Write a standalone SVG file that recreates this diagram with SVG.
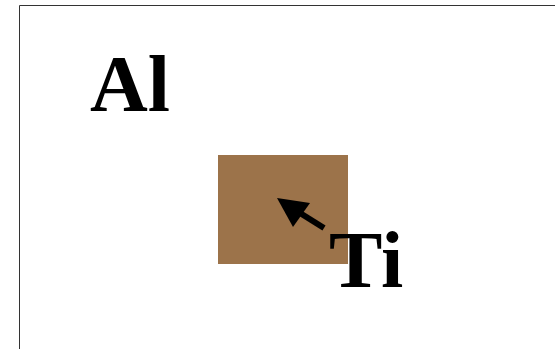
<svg xmlns="http://www.w3.org/2000/svg" width="555" height="349" viewBox="0 0 555 349">
<style>
text{font-family:'Liberation Serif','Times New Roman',Times,serif;font-weight:700;font-size:80px;fill:#000}
</style>
<rect x="0" y="0" width="555" height="349" fill="#fff"/>
<path d="M19.5 349V5.5H555" fill="none" stroke="#333" stroke-width="1"/>
<g id="al"><text x="90" y="111">Al</text></g>
<g id="ti-block"><rect x="218" y="155" width="130" height="109" fill="#9C734A"/></g>
<g id="connectors">
<line x1="324" y1="228" x2="300" y2="213" stroke="#000" stroke-width="6"/>
<polygon points="277,198 310,203 293,227" fill="#000"/>
</g>
<g id="ti"><text x="329" y="287">Ti</text></g>
</svg>
